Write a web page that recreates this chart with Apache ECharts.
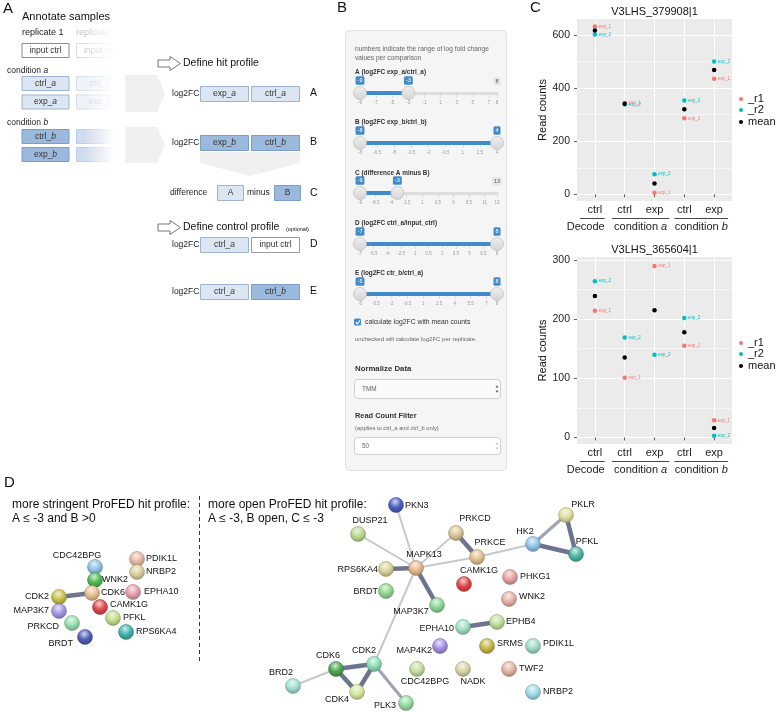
<!DOCTYPE html>
<html><head><meta charset="utf-8">
<script src="https://cdn.jsdelivr.net/npm/echarts@6/dist/echarts.min.js"></script>
<style>html,body{margin:0;padding:0;background:#fff}#c{width:776px;height:712px}</style>
</head><body><div id="c"></div>
<script>
const FONT = "'Liberation Sans', Arial, Helvetica, sans-serif";

// ---------------- Panel C data ----------------
const cCategories = ['ctrl', 'ctrl', 'exp', 'ctrl', 'exp'];
const cGroups = ['Decode', 'condition {i|a}', 'condition {i|b}'];
const cGroupStart = [1, 2, 4];
const cGroupEnd = [1, 3, 5];
const cPointLabels = ['exp_1', 'exp_2'];
const legendNames = ['_r1', '_r2', 'mean'];
const c1Title = 'V3LHS_379908|1';
const c1R1 = [632, 344, 6, 286, 435];
const c1R2 = [602, 338, 76, 353, 500];
const c1Mean = [617, 341, 41, 320, 468];
const c1Ticks = [0, 200, 400, 600];
const c1Minor = [100, 300, 500];
const c2Title = 'V3LHS_365604|1';
const c2R1 = [214, 101, 290, 155, 29];
const c2R2 = [264, 169, 140, 202, 3];
const c2Mean = [239, 135, 215, 178, 16];
const c2Ticks = [0, 100, 200, 300];
const c2Minor = [50, 150, 250];

// ---------------- Panel B data (slider settings) ----------------
const sliderTitles = ['A (log2FC exp_a/ctrl_a)', 'B (log2FC exp_b/ctrl_b)', 'C (difference A minus B)', 'D (log2FC ctrl_a/input_ctrl)', 'E (log2FC ctr_b/ctrl_a)'];
const sliderMin = [-9, -8, -9, -7, -5];
const sliderMax = [8, 4, 13, 8, 8];
const sliderFrom = [-9, -8, -9, -7, -5];
const sliderTo = [-3, 4, -3, 8, 8];
const sliderGridLabels = [
  [-9, -7, -5, -3, -1, 1, 3, 5, 7, 8],
  [-8, -6.5, -5, -3.5, -2, -0.5, 1, 2.5, 4],
  [-9, -6.5, -4, -1.5, 1, 3.5, 6, 8.5, 11, 13],
  [-7, -5.5, -4, -2.5, -1, 0.5, 2, 3.5, 5, 6.5, 8],
  [-5, -3.5, -2, -0.5, 1, 2.5, 4, 5.5, 7, 8]
];

// ---------------- Panel D data (networks) ----------------
const leftNodes = ['CDC42BPG', 'WNK2', 'PDIK1L', 'NRBP2', 'CDK6', 'EPHA10', 'CDK2', 'MAP3K7', 'CAMK1G', 'PFKL', 'PRKCD', 'BRDT', 'RPS6KA4'];
const leftEdges = [['CDK2', 'CDK6', 3]];
const rightNodes = ['PKN3', 'DUSP21', 'PRKCD', 'PRKCE', 'MAPK13', 'RPS6KA4', 'BRDT', 'CAMK1G', 'MAP3K7', 'HK2', 'PKLR', 'PFKL', 'PHKG1', 'WNK2', 'EPHB4', 'EPHA10', 'MAP4K2', 'SRMS', 'PDIK1L', 'CDK2', 'CDK6', 'BRD2', 'CDK4', 'PLK3', 'CDC42BPG', 'NADK', 'TWF2', 'NRBP2'];
const rightEdges = [['MAPK13', 'PKN3', 1], ['MAPK13', 'DUSP21', 1], ['MAPK13', 'PRKCD', 1], ['MAPK13', 'PRKCE', 1], ['PRKCE', 'HK2', 1], ['MAPK13', 'CDK2', 1], ['PRKCD', 'PRKCE', 3], ['MAPK13', 'RPS6KA4', 3], ['MAPK13', 'MAP3K7', 3], ['HK2', 'PKLR', 2], ['HK2', 'PFKL', 3], ['PKLR', 'PFKL', 3], ['EPHA10', 'EPHB4', 3], ['CDK6', 'CDK2', 3], ['CDK6', 'CDK4', 3], ['CDK2', 'CDK4', 3], ['CDK6', 'BRD2', 1], ['CDK2', 'PLK3', 2]];

// ---------------- network layout (node placement on the drawing) ----------------
const leftLayoutX = [95, 95, 137, 137, 92, 133, 59, 59, 100, 113, 72, 85, 126];
const leftLayoutY = [567, 580, 559, 572, 593, 592, 597, 611, 607, 618, 623, 637, 632];
const rightLayoutX = [396, 358, 456, 477, 416, 386, 386, 464, 437, 533, 566, 576, 510, 509, 497, 463, 440, 487, 533, 374, 336, 293, 357, 406, 417, 463, 509, 533];
const rightLayoutY = [505, 534, 533, 557, 568, 569, 591, 584, 605, 544, 515, 554, 577, 599, 622, 627, 646, 646, 646, 664, 669, 686, 692, 703, 669, 669, 669, 692];

// ---------------- styles ----------------
const leftColors = ['#8ec3e6', '#4fba52', '#e6b8a2', '#d9cf9c', '#e7bf92', '#e59fac', '#c8c24a', '#a596e3', '#e0474d', '#c3de8a', '#95deb0', '#4f5fb8', '#3fb5ac'];
const rightColors = ['#4a5ec4', '#b9da8e', '#d9c596', '#e0c08f', '#e8b88e', '#d8d29a', '#8fd88f', '#df4549', '#8ed69a', '#8fc6e6', '#e0df9f', '#4fb5a3', '#e6a2a6', '#e6b1a6', '#bfe09a', '#9fe0c4', '#a58fe6', '#c7b64a', '#9fdcc4', '#8fe0b8', '#4fa552', '#9fded6', '#d6e89c', '#95dea4', '#c6dca0', '#d6d6a6', '#e3b49e', '#9fdce6'];
const leftLabelPos = [[-18, -11, 'center'], [7, 0, 'left'], [9, 0, 'left'], [9, 0, 'left'], [9, 0, 'left'], [11, 0, 'left'], [-10, 0, 'right'], [-10, 0, 'right'], [10, -2, 'left'], [10, 0, 'left'], [-13, 4, 'right'], [-12, 7, 'right'], [10, 0, 'left']];
const rightLabelPos = [[9, 1, 'left'], [12, -13, 'center'], [19, -14, 'center'], [13, -14, 'center'], [8, -13, 'center'], [-8, 1, 'right'], [-8, 1, 'right'], [15, -13, 'center'], [-26, 7, 'center'], [-8, -12, 'center'], [17, -10, 'center'], [11, -12, 'center'], [10, 0, 'left'], [10, -2, 'left'], [9, 0, 'left'], [-9, 2, 'right'], [-8, 5, 'right'], [10, -2, 'left'], [10, -2, 'left'], [-10, -13, 'center'], [-8, -13, 'center'], [-12, -13, 'center'], [-20, 8, 'center'], [-10, 3, 'right'], [8, 13, 'center'], [10, 13, 'center'], [10, 0, 'left'], [10, 0, 'left']];
const edgeStyle = {1: {width: 2, color: '#c6c8d0'}, 2: {width: 3, color: '#9ea2b4'}, 3: {width: 4.5, color: '#6e7390'}};
const RED = '#F8766D', TEAL = '#00BFC4';
const LIGHT_FILL = '#dce6f2', LIGHT_BORDER = '#9db4d1', DARK_FILL = '#9bb8dd', DARK_BORDER = '#7c9dc8';
// group underline padding (in category units) and label alignment
const groupPadL = [0.5, 0.43, 0.33], groupPadR = [0.33, 0.5, 0.47], groupAlign = ['right', 'center', 'center'];

const cBoxes = [
  {left: 577, top: 19, width: 155, height: 182, min: -25, max: 660, titleY: 12, legTop: 93.5, meanTop: 116.5},
  {left: 577, top: 257, width: 155, height: 187, min: -11, max: 305, titleY: 250, legTop: 337.5, meanTop: 360.5}
];
const sliderTitleY = [72, 122, 173, 223, 273];
const sliderTrackY = [93, 143, 193, 244, 294];

// ---------------- helpers ----------------
const G = [];
function zz(o, d) { return (o && o.z != null) ? o.z : d; }
function T(x, y, text, o) {
  o = o || {};
  const st = {text: text, fontFamily: FONT, fontSize: o.size || 9, fill: o.fill || '#222',
    align: o.align || 'left', textAlign: o.align || 'left', verticalAlign: 'middle', textVerticalAlign: 'middle',
    fontWeight: o.weight || 'normal', fontStyle: o.fs || 'normal'};
  if (o.rich) st.rich = o.rich;
  G.push({type: 'text', x: x, y: y, silent: true, z: zz(o, 10), style: st});
}
function R(x, y, w, h, fill, stroke, o) {
  o = o || {};
  G.push({type: 'rect', silent: true, z: zz(o, 5), shape: {x: x, y: y, width: w, height: h, r: o.r || 0}, style: {fill: fill, stroke: stroke || null, lineWidth: o.lw || 1}});
}
function P(points, fill, stroke, o) {
  o = o || {};
  G.push({type: 'polygon', silent: true, z: zz(o, 3), shape: {points: points}, style: {fill: fill, stroke: stroke || null, lineWidth: o.lw || 1}});
}
function L(x1, y1, x2, y2, stroke, lw, o) {
  o = o || {};
  G.push({type: 'line', silent: true, z: zz(o, 5), shape: {x1: x1, y1: y1, x2: x2, y2: y2}, style: {stroke: stroke, lineWidth: lw, lineDash: o.dash || null}});
}
function PL(points, stroke, lw, o) {
  o = o || {};
  G.push({type: 'polyline', silent: true, z: zz(o, 12), shape: {points: points}, style: {stroke: stroke, lineWidth: lw, fill: null}});
}
function italicRich(size, fill) {
  return {i: {fontStyle: 'italic', fontSize: size, fontFamily: FONT, fill: fill, color: fill}};
}
function shade(hex, f) {
  const n = parseInt(hex.slice(1), 16);
  let r = n >> 16, g = (n >> 8) & 255, b = n & 255;
  if (f >= 0) { r += (255 - r) * f; g += (255 - g) * f; b += (255 - b) * f; }
  else { r *= 1 + f; g *= 1 + f; b *= 1 + f; }
  return 'rgb(' + Math.round(r) + ',' + Math.round(g) + ',' + Math.round(b) + ')';
}
function sphere(hex) {
  return {type: 'radial', x: 0.45, y: 0.3, r: 0.75, colorStops: [
    {offset: 0, color: shade(hex, 0.75)}, {offset: 0.5, color: hex}, {offset: 1, color: shade(hex, -0.3)}]};
}

// ---------------- Panel A graphics ----------------
T(3, 9, 'A', {size: 15, fill: '#111'});
T(22, 17, 'Annotate samples', {size: 11, fill: '#111'});
T(22, 33, 'replicate 1', {size: 9, fill: '#222'});
T(76, 33, 'replicate 2', {size: 9, fill: '#c4c4c4'});
function sampleBox(x, y, label, fill, stroke, tfill) {
  R(x + 0.5, y + 0.5, 47, 14, fill, stroke);
  T(x + 24, y + 7.5, label, {size: 8.5, align: 'center', fill: tfill, rich: italicRich(8.5, tfill)});
}
sampleBox(21.5, 43, 'input ctrl', '#fff', '#8c8c8c', '#333');
sampleBox(76, 43, 'input ctrl', '#fff', '#dedede', '#c8c8c8');
T(7, 71, 'condition {i|a}', {size: 8.5, rich: italicRich(8.5, '#222')});
sampleBox(21.5, 76, 'ctrl_{i|a}', LIGHT_FILL, LIGHT_BORDER, '#333');
sampleBox(21.5, 94.5, 'exp_{i|a}', LIGHT_FILL, LIGHT_BORDER, '#333');
T(7, 123, 'condition {i|b}', {size: 8.5, rich: italicRich(8.5, '#222')});
sampleBox(21.5, 129, 'ctrl_{i|b}', DARK_FILL, DARK_BORDER, '#333');
sampleBox(21.5, 147, 'exp_{i|b}', DARK_FILL, DARK_BORDER, '#333');
sampleBox(76, 76, 'ctrl_{i|a}', '#eef3f9', '#d5e0ee', '#cfcfcf');
sampleBox(76, 94.5, 'exp_{i|a}', '#eef3f9', '#d5e0ee', '#cfcfcf');
sampleBox(76, 129, 'ctrl_{i|b}', '#cfdcef', '#bacde6', '#d8d8d8');
sampleBox(76, 147, 'exp_{i|b}', '#cfdcef', '#bacde6', '#d8d8d8');
G.push({type: 'rect', silent: true, z: 20, shape: {x: 84, y: 24, width: 40, height: 146},
  style: {fill: {type: 'linear', x: 0, y: 0, x2: 1, y2: 0, colorStops: [{offset: 0, color: 'rgba(255,255,255,0)'}, {offset: 0.75, color: 'rgba(255,255,255,1)'}, {offset: 1, color: 'rgba(255,255,255,1)'}]}}});
P([[125, 75], [157, 75], [165, 93.5], [157, 112], [125, 112]], '#f0f0f0');
P([[125, 127], [157, 127], [165, 145], [157, 163], [125, 163]], '#f0f0f0');
P([[200, 152], [300, 152], [300, 163], [250, 176], [200, 163]], '#f0f0f0');
function hollowArrow(y) {
  P([[158, y - 3.5], [170, y - 3.5], [170, y - 7], [180.5, y], [170, y + 7], [170, y + 3.5], [158, y + 3.5]], '#fff', '#555', {lw: 0.8, z: 6});
}
hollowArrow(63.5);
T(183, 63.5, 'Define hit profile', {size: 10.5, fill: '#111'});
function profileRow(y, letter, b1, b2) {
  T(172, y + 7.5, 'log2FC', {size: 8.5});
  [b1, b2].forEach(function (b, k) {
    const x = 200 + k * 51;
    if (b[2]) R(x + 0.5, y + 0.5, 48, 15, '#fff', '#9a9a9a');
    else R(x + 0.5, y + 0.5, 48, 15, b[1] ? DARK_FILL : LIGHT_FILL, b[1] ? DARK_BORDER : LIGHT_BORDER);
    T(x + 24.5, y + 8, b[0], {size: 8.5, align: 'center', fill: '#333', rich: italicRich(8.5, '#333')});
  });
  T(310, y + 7.5, letter, {size: 10.5, fill: '#111'});
}
profileRow(86, 'A', ['exp_{i|a}', 0], ['ctrl_{i|a}', 0]);
profileRow(135, 'B', ['exp_{i|b}', 1], ['ctrl_{i|b}', 1]);
T(170, 193, 'difference', {size: 8.5});
R(217.5, 185.5, 26, 15, LIGHT_FILL, LIGHT_BORDER);
T(230.5, 193, 'A', {size: 8.5, align: 'center', fill: '#333'});
T(247, 193, 'minus', {size: 8.5});
R(274.5, 185.5, 26, 15, DARK_FILL, DARK_BORDER);
T(287.5, 193, 'B', {size: 8.5, align: 'center', fill: '#333'});
T(310, 193, 'C', {size: 10.5, fill: '#111'});
hollowArrow(227.5);
T(183, 227.5, 'Define control profile', {size: 10.5, fill: '#111'});
T(286, 229, '(optional)', {size: 5.5, fill: '#111'});
profileRow(237, 'D', ['ctrl_{i|a}', 0], ['input ctrl', 0, 1]);
profileRow(284, 'E', ['ctrl_{i|a}', 0], ['ctrl_{i|b}', 1]);

// ---------------- Panel B graphics ----------------
T(337, 8, 'B', {size: 15, fill: '#111'});
R(345.5, 30.5, 161, 440, '#f5f5f5', '#e2e2e2', {r: 4, z: -10});
T(355, 49, 'numbers indicate the range of log fold change', {size: 6.6, fill: '#666'});
T(355, 58, 'values per comparison', {size: 6.6, fill: '#666'});
sliderTitles.forEach(function (t, i) { T(355, sliderTitleY[i], t, {size: 6.4, weight: 'bold', fill: '#333'}); });
R(354, 318.5, 7, 7, '#428bca', null, {r: 1.5, z: 11});
PL([[355.7, 322.2], [357.4, 323.9], [360, 320.3]], '#fff', 1.1);
T(365, 322.5, 'calculate log2FC with mean counts', {size: 6.8, fill: '#333'});
T(355, 339, 'unchecked will calculate log2FC per replicate.', {size: 6, fill: '#666'});
T(355, 369, 'Normalize Data', {size: 7.8, weight: 'bold', fill: '#333'});
R(354.5, 379.5, 146, 19, '#fafafa', '#cfcfcf', {r: 3});
T(362, 389, 'TMM', {size: 6.4, fill: '#666'});
P([[495.5, 387.5], [498.5, 387.5], [497, 385.3]], '#555', null, {z: 11});
P([[495.5, 390.5], [498.5, 390.5], [497, 392.7]], '#555', null, {z: 11});
T(355, 416, 'Read Count Filter', {size: 7.4, weight: 'bold', fill: '#333'});
T(355, 428, '(applies to ctrl_a and ctrl_b only)', {size: 5.8, fill: '#666'});
R(354.5, 437.5, 146, 17, '#fff', '#cfcfcf', {r: 3});
T(362, 446, '50', {size: 6.4, fill: '#666'});
P([[495.5, 444.5], [498.5, 444.5], [497, 442.5]], '#bbb', null, {z: 11});
P([[495.5, 447.5], [498.5, 447.5], [497, 449.5]], '#bbb', null, {z: 11});

// ---------------- Panel C static graphics ----------------
T(530, 8, 'C', {size: 15, fill: '#111'});
[c1Title, c2Title].forEach(function (t, k) {
  const b = cBoxes[k];
  T(b.left + b.width / 2, b.titleY, t, {size: 11, align: 'center', fill: '#111'});
});

// ---------------- Panel D static graphics ----------------
T(4, 483, 'D', {size: 15, fill: '#111'});
T(12, 505, 'more stringent ProFED hit profile:', {size: 12, fill: '#111'});
T(12, 518.5, 'A \u2264 -3 and B >0', {size: 12, fill: '#111'});
T(208, 505, 'more open ProFED hit profile:', {size: 12, fill: '#111'});
T(208, 518.5, 'A \u2264 -3, B open, C \u2264 -3', {size: 12, fill: '#111'});
L(199.5, 496, 199.5, 662, '#333', 1, {dash: [4, 3]});

// ---------------- ECharts option ----------------
const grids = [], xAxes = [], yAxes = [], series = [], legends = [];

// Panel C charts: grids 0,1; xAxis 0,1; yAxis 0,1 (major) 2,3 (minor)
const cData = [[c1R1, c1R2, c1Mean, c1Ticks, c1Minor], [c2R1, c2R2, c2Mean, c2Ticks, c2Minor]];
cBoxes.forEach(function (b, k) {
  grids.push({left: b.left, top: b.top, width: b.width, height: b.height, show: true, backgroundColor: '#ebebeb', borderWidth: 0, outerBoundsMode: 'none', containLabel: false});
  xAxes.push({type: 'value', gridIndex: k, min: 0.4, max: 5.6, position: 'bottom',
    axisLine: {show: false},
    axisTick: {show: true, customValues: [1, 2, 3, 4, 5], length: 3, lineStyle: {color: '#333', width: 0.8}},
    axisLabel: {show: true, customValues: [1, 2, 3, 4, 5], margin: 3, fontSize: 11, color: '#222', fontFamily: FONT, hideOverlap: false,
      formatter: function (v) { return cCategories[Math.round(v) - 1] || ''; }},
    splitLine: {show: true, lineStyle: {color: '#ffffff', width: 1.1}}});
});
cBoxes.forEach(function (b, k) {
  yAxes.push({type: 'value', gridIndex: k, min: b.min, max: b.max, position: 'left',
    name: 'Read counts', nameLocation: 'middle', nameGap: 26, nameRotate: 90,
    nameTextStyle: {fontSize: 11, color: '#111', fontFamily: FONT},
    axisLine: {show: false},
    axisTick: {show: true, customValues: cData[k][3], length: 3, lineStyle: {color: '#333', width: 0.8}},
    axisLabel: {show: true, customValues: cData[k][3], margin: 7, fontSize: 10.5, color: '#222', fontFamily: FONT, hideOverlap: false},
    splitLine: {show: true, lineStyle: {color: '#ffffff', width: 1.1}}});
});
cBoxes.forEach(function (b, k) {
  yAxes.push({type: 'value', gridIndex: k, min: b.min, max: b.max, position: 'right',
    axisLine: {show: false}, axisLabel: {show: false},
    axisTick: {show: false, customValues: cData[k][4]},
    splitLine: {show: true, lineStyle: {color: '#ffffff', width: 0.55}}});
});
cBoxes.forEach(function (b, k) {
  const d = cData[k];
  const mk = function (arr, name, color, lbl) {
    return {type: 'scatter', name: name, xAxisIndex: k, yAxisIndex: k, symbolSize: 4.5, z: 5,
      itemStyle: {color: color, opacity: 1}, clip: false, silent: true,
      data: arr.map(function (v, i) { return {name: lbl || '', value: [i + 1, v]}; }),
      label: {show: !!lbl, position: 'right', distance: 1.5, formatter: '{b}', fontSize: 4.5, color: color, fontFamily: FONT}};
  };
  series.push(mk(d[0], legendNames[0], RED, cPointLabels[0]));
  series.push(mk(d[1], legendNames[1], TEAL, cPointLabels[1]));
  series.push(mk(d[2], legendNames[2], '#000', null));
  const legBase = {orient: 'vertical', left: 739, itemWidth: 4, itemHeight: 4, itemGap: 0, padding: 0, icon: 'circle', selectedMode: false,
    textStyle: {fontSize: 11, color: '#111', lineHeight: 9, fontFamily: FONT, padding: 0}};
  legends.push(Object.assign({}, legBase, {top: b.legTop, data: [legendNames[0], legendNames[1]]}));
  legends.push(Object.assign({}, legBase, {top: b.meanTop, data: [legendNames[2]]}));
});

// Sliders: grids 2..6; xAxis 2..6 major, 7..11 minor; yAxis 4..8
sliderTitles.forEach(function (t, i) {
  grids.push({left: 360, top: sliderTrackY[i] - 2, width: 137, height: 2, show: false, outerBoundsMode: 'none', containLabel: false});
});
sliderTitles.forEach(function (t, i) {
  xAxes.push({type: 'value', gridIndex: 2 + i, min: sliderMin[i], max: sliderMax[i], position: 'bottom',
    axisLine: {show: true, onZero: false, lineStyle: {color: '#dedede', width: 3}},
    axisTick: {show: true, customValues: sliderGridLabels[i], length: 5, lineStyle: {color: '#cfcfcf', width: 0.6}},
    axisLabel: {show: true, customValues: sliderGridLabels[i], margin: 7, fontSize: 4.5, color: '#999', fontFamily: FONT, hideOverlap: false,
      formatter: function (v) { return String(v); }},
    splitLine: {show: false}});
});
sliderTitles.forEach(function (t, i) {
  const g = sliderGridLabels[i], mids = [];
  for (let j = 1; j < g.length; j++) mids.push((g[j - 1] + g[j]) / 2);
  xAxes.push({type: 'value', gridIndex: 2 + i, min: sliderMin[i], max: sliderMax[i], position: 'bottom',
    axisLine: {show: false}, axisLabel: {show: false}, splitLine: {show: false},
    axisTick: {show: true, customValues: mids, length: 3, lineStyle: {color: '#d6d6d6', width: 0.6}}});
});
sliderTitles.forEach(function (t, i) {
  yAxes.push({type: 'value', gridIndex: 2 + i, min: 0, max: 1, show: false});
});
const handleGrad = {type: 'linear', x: 0, y: 0, x2: 0, y2: 1, colorStops: [{offset: 0, color: '#f0f0f0'}, {offset: 1, color: '#d4d4d4'}]};
sliderTitles.forEach(function (t, i) {
  series.push({type: 'line', xAxisIndex: 2 + i, yAxisIndex: 4 + i, data: [[sliderFrom[i], 0], [sliderTo[i], 0]],
    symbol: 'none', clip: false, silent: true, z: 3, lineStyle: {color: '#428bca', width: 4}});
  series.push({type: 'scatter', xAxisIndex: 2 + i, yAxisIndex: 4 + i, data: [[sliderFrom[i], 0], [sliderTo[i], 0]],
    symbolSize: 13, clip: false, silent: true, z: 5,
    itemStyle: {color: handleGrad, borderColor: '#bdbdbd', borderWidth: 0.7, opacity: 1},
    label: {show: true, position: 'top', distance: 1.5, formatter: function (p) { return String(p.value[0]); },
      backgroundColor: '#428bca', color: '#fff', fontSize: 5.5, fontFamily: FONT, padding: [1.5, 2, 1, 2], borderRadius: 1.5}});
  if (sliderTo[i] < sliderMax[i]) {
    series.push({type: 'scatter', xAxisIndex: 2 + i, yAxisIndex: 4 + i, data: [[sliderMax[i], 0]],
      symbolSize: 0, clip: false, silent: true, z: 4,
      label: {show: true, position: 'top', distance: 7.5, formatter: function (p) { return String(p.value[0]); },
        backgroundColor: '#e1e4e9', color: '#333', fontSize: 5.5, fontFamily: FONT, padding: [1.5, 2, 1, 2], borderRadius: 1.5}});
  }
});

// Networks: grid 7; xAxis 12; yAxis 9
grids.push({left: 0, top: 0, width: 776, height: 712, show: false, outerBoundsMode: 'none', containLabel: false});
xAxes.push({type: 'value', gridIndex: 7, min: 0, max: 776, show: false});
yAxes.push({type: 'value', gridIndex: 7, min: 0, max: 712, inverse: true, show: false});
function netSeries(names, xs, ys, colors, lpos, edges) {
  return {type: 'graph', coordinateSystem: 'cartesian2d', xAxisIndex: 12, yAxisIndex: 9, layout: 'none',
    symbolSize: 15, silent: true, z: 4, emphasis: {disabled: true}, edgeSymbol: ['none', 'none'],
    data: names.map(function (n, i) {
      return {name: n, value: [xs[i], ys[i]],
        itemStyle: {color: sphere(colors[i]), borderColor: shade(colors[i], -0.35), borderWidth: 0.5},
        label: {show: true, position: 'inside', offset: [lpos[i][0], lpos[i][1]], align: lpos[i][2], verticalAlign: 'middle',
          fontSize: 9, color: '#111', fontFamily: FONT, formatter: '{b}'}};
    }),
    links: edges.map(function (e) {
      return {source: e[0], target: e[1], lineStyle: {width: edgeStyle[e[2]].width, color: edgeStyle[e[2]].color, opacity: 1, curveness: 0}};
    })};
}
series.push(netSeries(leftNodes, leftLayoutX, leftLayoutY, leftColors, leftLabelPos, leftEdges));
series.push(netSeries(rightNodes, rightLayoutX, rightLayoutY, rightColors, rightLabelPos, rightEdges));

const option = {
  animation: false,
  backgroundColor: '#ffffff',
  textStyle: {fontFamily: FONT},
  grid: grids, xAxis: xAxes, yAxis: yAxes, series: series, legend: legends,
  tooltip: {show: false}
};

const chart = echarts.init(document.getElementById('c'), null, {renderer: 'canvas', width: 776, height: 712});
chart.setOption(option);

// group labels under panel C x axes (positions from the library's x scale)
cBoxes.forEach(function (b, k) {
  const yb = b.top + b.height;
  cGroups.forEach(function (name, j) {
    const x1 = chart.convertToPixel({xAxisIndex: k}, cGroupStart[j] - groupPadL[j]);
    const x2 = chart.convertToPixel({xAxisIndex: k}, cGroupEnd[j] + groupPadR[j]);
    L(x1, yb + 17.5, x2, yb + 17.5, '#333', 0.9);
    const tx = groupAlign[j] === 'right' ? x2 : (x1 + x2) / 2;
    T(tx, yb + 25.5, name, {size: 11, align: groupAlign[j], fill: '#222', rich: italicRich(11, '#222')});
  });
});
chart.setOption({graphic: G});
</script></body></html>
